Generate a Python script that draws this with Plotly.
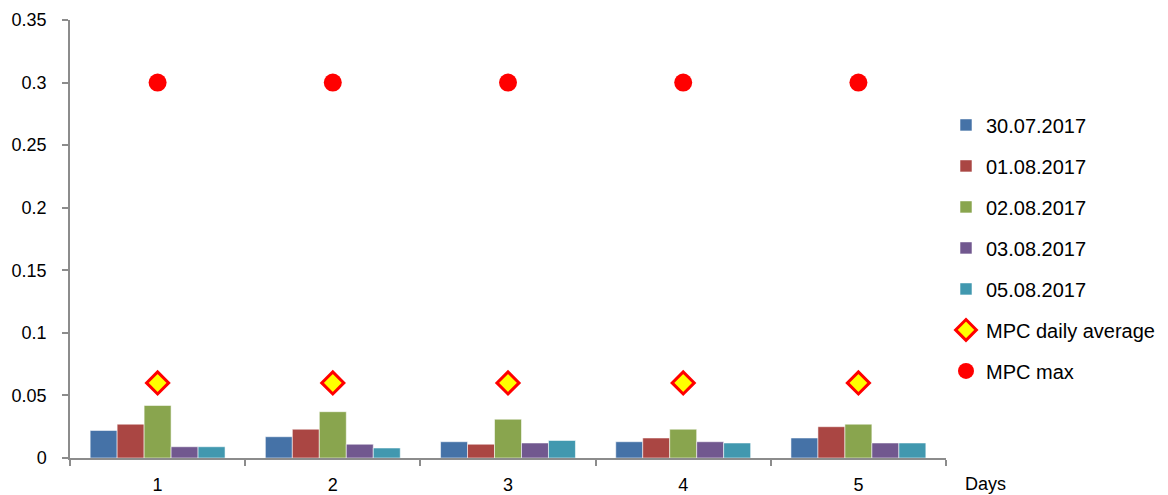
import plotly.graph_objects as go

days = ["1", "2", "3", "4", "5"]
series_names = ["30.07.2017", "01.08.2017", "02.08.2017", "03.08.2017", "05.08.2017"]
v_3007 = [0.022, 0.017, 0.013, 0.013, 0.016]
v_0108 = [0.027, 0.023, 0.011, 0.016, 0.025]
v_0208 = [0.042, 0.037, 0.031, 0.023, 0.027]
v_0308 = [0.009, 0.011, 0.012, 0.013, 0.012]
v_0508 = [0.009, 0.008, 0.014, 0.012, 0.012]
mpc_daily_avg = [0.06, 0.06, 0.06, 0.06, 0.06]
mpc_max = [0.3, 0.3, 0.3, 0.3, 0.3]

colors = ["#4572A7", "#AA4643", "#89A54E", "#71588F", "#4198AF"]
series_values = [v_3007, v_0108, v_0208, v_0308, v_0508]

FONT = "Liberation Sans, Arial, sans-serif"
AXIS = "#8c8c8c"

fig = go.Figure()
for i, (name, vals) in enumerate(zip(series_names, series_values)):
    fig.add_trace(go.Bar(
        x=days, y=vals, name=name, legendgroup=name,
        marker=dict(color=colors[i], line=dict(color="rgba(255,255,255,0.55)", width=1)),
    ))

fig.add_trace(go.Scatter(
    x=days, y=mpc_daily_avg, name="MPC daily average", legendgroup="avg",
    mode="markers",
    marker=dict(symbol="diamond", size=17, color="#FFFF00",
                line=dict(color="#FF0000", width=3)),
))
fig.add_trace(go.Scatter(
    x=days, y=mpc_max, name="MPC max", legendgroup="max",
    mode="markers",
    marker=dict(symbol="circle", size=18, color="#FF0000",
                line=dict(color="#FF0000", width=0)),
))

fig.update_layout(
    width=1168, height=495,
    margin=dict(l=70, r=222, t=20, b=37, autoexpand=False),
    paper_bgcolor="white", plot_bgcolor="white",
    font=dict(family=FONT, size=18, color="#000000"),
    barmode="group", bargap=0.23, bargroupgap=0,
    showlegend=True,
    legend=dict(x=1.0, xanchor="left", y=0.805, yanchor="top",
                font=dict(family=FONT, size=20, color="#000000"),
                tracegroupgap=12, itemwidth=30, bgcolor="rgba(0,0,0,0)"),
    xaxis=dict(type="category", tickson="boundaries", showline=True,
               linecolor=AXIS, linewidth=1.5, ticks="outside", ticklen=6,
               tickcolor=AXIS, tickwidth=1.5, showgrid=False, zeroline=False,
               ticklabelstandoff=10, automargin=False),
    yaxis=dict(range=[0, 0.35], dtick=0.05, showline=True, linecolor=AXIS,
               linewidth=1.5, ticks="outside", ticklen=6, tickcolor=AXIS,
               tickwidth=1.5, showgrid=False, zeroline=False,
               ticklabelstandoff=12, automargin=False),
    annotations=[dict(text="Days", x=1.0, xref="paper", xanchor="left",
                      xshift=17, y=0, yref="paper", yanchor="top", yshift=-14,
                      showarrow=False, font=dict(family=FONT, size=18, color="#000000"))],
)

fig.write_html("out.html")
